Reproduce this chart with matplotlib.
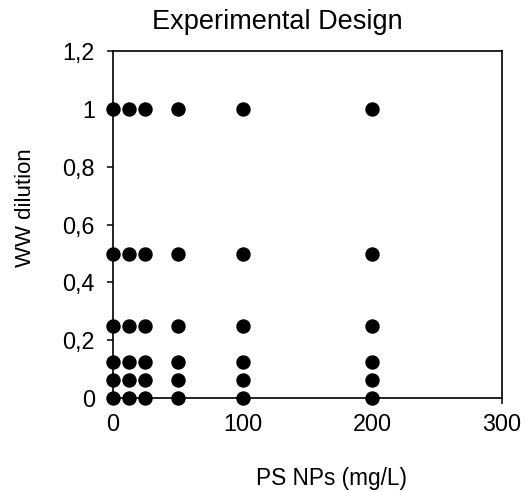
import matplotlib
matplotlib.use("Agg")
import matplotlib.pyplot as plt
from matplotlib.ticker import FuncFormatter

# experimental design grid
ps_nps = [0, 12.5, 25, 50, 100, 200]
ww_dilution = [0, 0.0625, 0.125, 0.25, 0.5, 1]

xs = [x for y in ww_dilution for x in ps_nps]
ys = [y for y in ww_dilution for x in ps_nps]

plt.rcParams['font.family'] = ['Liberation Sans', 'DejaVu Sans']

fig = plt.figure(figsize=(5.25, 4.92), dpi=100)
ax = fig.add_axes([0.215, 0.191, 0.741, 0.705])

ax.scatter(xs, ys, s=88, color='black', zorder=3, clip_on=False)

ax.set_xlim(0, 300)
ax.set_ylim(0, 1.2)
ax.set_xticks([0, 100, 200, 300])
ax.set_yticks([0, 0.2, 0.4, 0.6, 0.8, 1.0, 1.2])
ax.yaxis.set_major_formatter(FuncFormatter(lambda v, p: ('%g' % round(v, 1)).replace('.', ',')))

for s in ax.spines.values():
	s.set_linewidth(1.2)
	s.set_color('black')
ax.tick_params(direction='out', length=4, width=1.1, labelsize=16.8, colors='black')
ax.tick_params(axis='x', pad=7)
ax.tick_params(axis='y', pad=9)

fig.text(0.528, 0.955, "Experimental Design", ha='center', va='center', fontsize=19.5)
fig.text(0.631, 0.028, "PS NPs (mg/L)", ha='center', va='center', fontsize=16.3)
fig.text(0.048, 0.579, "WW dilution", ha='center', va='center', rotation=90, fontsize=16)

fig.savefig("out.png", dpi=100)
